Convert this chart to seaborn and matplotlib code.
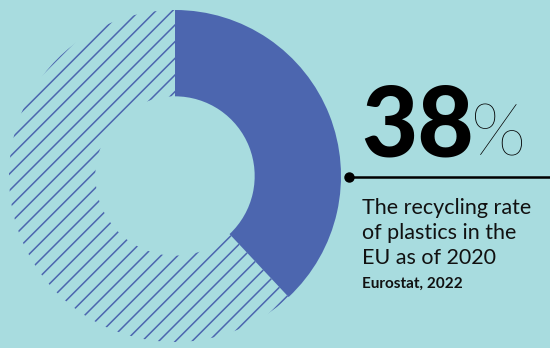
import matplotlib
matplotlib.use("Agg")
import matplotlib.pyplot as plt
import seaborn as sns

# data
labels = ["Recycled", "Not recycled"]
shares = [38, 62]
headline = "38"
caption_lines = ["The recycling rate", "of plastics in the", "EU as of 2020"]
source = "Eurostat, 2022"

BG = "#A8DCDF"
BLUE = "#4C66AF"

sns.set_theme(style="white")
plt.rcParams["font.family"] = ["Lato", "DejaVu Sans"]
plt.rcParams["hatch.linewidth"] = 1.1

W, H = 550, 348
fig = plt.figure(figsize=(W / 100, H / 100), dpi=100, facecolor=BG)

cx, cy, r = 175, 176, 166
ax = fig.add_axes([(cx - r) / W, (H - cy - r) / H, 2 * r / W, 2 * r / H])
ax.set_facecolor(BG)
wedges, _ = ax.pie(shares, startangle=90, counterclock=False, radius=1,
                   colors=[BLUE, "none"],
                   wedgeprops=dict(width=0.52, linewidth=0))
wedges[1].set_hatch("//")
wedges[1].set_edgecolor(BLUE)
wedges[1].set_linewidth(0)
ax.set_xlim(-1, 1)
ax.set_ylim(-1, 1)
ax.set_aspect("equal")
ax.axis("off")

def fx(x):
    return x / W

def fy(y):
    return 1 - y / H

fig.text(fx(361), fy(157), headline, fontsize=70, fontweight="black",
         color="black", va="baseline", ha="left")
fig.text(fx(471), fy(155), "%", fontsize=52, fontweight="light",
         color="black", va="baseline", ha="left")

# connector line with dot
fig.add_artist(plt.Line2D([fx(349), fx(550)], [fy(177), fy(177)],
                          transform=fig.transFigure, color="black", lw=1.8))
fig.add_artist(plt.Line2D([fx(349)], [fy(177)], transform=fig.transFigure,
                          marker="o", markersize=6.5, color="black", lw=0))

for i, line in enumerate(caption_lines):
    fig.text(fx(362), fy(214 + i * 25), line, fontsize=15.5, color="#111111",
             va="baseline", ha="left")
fig.text(fx(362), fy(288), source, fontsize=11, fontweight="bold",
         color="#111111", va="baseline", ha="left")

fig.savefig("out.png", dpi=100, facecolor=BG)
